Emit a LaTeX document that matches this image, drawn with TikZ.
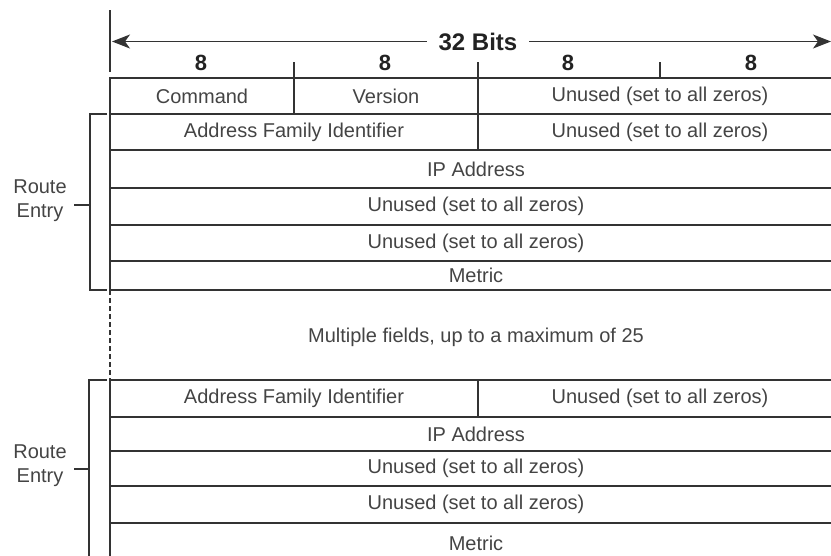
\documentclass[tikz,border=0pt]{standalone}
\usepackage{fontspec}
\setmainfont{Liberation Sans}
\usetikzlibrary{arrows.meta,positioning}
\definecolor{lineclr}{HTML}{333333}
\definecolor{textclr}{HTML}{444444}
\definecolor{headclr}{HTML}{222222}

\begin{document}
\begin{tikzpicture}[x=1pt, y=-1pt, >={Stealth[length=18pt, width=14pt, inset=5pt]},
  line width=1.6pt, lineclr,
  every node/.style={font=\fontsize{20}{24}\selectfont, text=textclr},
  field/.style={draw=lineclr, inner sep=0pt, outer sep=0pt, anchor=north west,
                minimum height=#1},
  quarter/.style={minimum width=184pt},
  half/.style={minimum width=368pt},
  rest/.style={minimum width=364pt},
  wide/.style={minimum width=732pt},
  head/.style={font=\fontsize{22}{26}\selectfont\bfseries, text=headclr},
  lbl/.style={align=center, inner sep=0pt}]
  \useasboundingbox (0,0) rectangle (831,555);
  \clip (0,0) rectangle (831,555);
  % Header: width arrow and byte counts
  \draw (110,10) -- (110,72);
  \node[head, font=\fontsize{24}{28}\selectfont\bfseries, inner xsep=11pt] (bits) at (478,41.5) {32 Bits};
  \coordinate (ltip) at (112,41.5);
  \coordinate (rtip) at (831,41.5);
  \draw[->, line width=1.2pt] (bits.west) -- (ltip);
  \draw[->, line width=1.2pt] (bits.east) -- (rtip);
  \node[head] (b1) at (201,63) {8};
  \node[head] (b2) at (385,63) {8};
  \node[head] (b3) at (568,63) {8};
  \node[head] (b4) at (751,63) {8};
  % First route entry (with header row)
  \node[field=36pt, quarter] (cmd) at (110,78) {Command};
  \node[field=36pt, quarter] (ver) at (cmd.north east) {Version};
  \node[field=36pt, rest] (un1) at (ver.north east) {Unused (set to all zeros)};
  \node[field=36pt, half] (afi1) at (cmd.south west) {Address Family Identifier};
  \node[field=36pt, rest] (un2) at (afi1.north east) {Unused (set to all zeros)};
  \node[field=38pt, wide] (ip1) at (afi1.south west) {IP Address};
  \node[field=37pt, wide] (un3) at (ip1.south west) {Unused (set to all zeros)};
  \node[field=36pt, wide] (un4) at (un3.south west) {Unused (set to all zeros)};
  \node[field=29pt, wide] (met1) at (un4.south west) {Metric};
  % Byte ticks
  \coordinate (t1) at (294,62);
  \coordinate (t2) at (478,62);
  \coordinate (t3) at (660,62);
  \draw (t1) -- (cmd.north east);
  \draw (t2) -- (ver.north east);
  \draw (t3) -- (t3 |- un1.north);
  % Bracket for first entry
  \draw[line width=1.4pt] (107,114) -| (90,290) -- (107,290);
  \node[lbl] (re1) at (40,201) {Route\\Entry};
  \coordinate (k1) at (90,205);
  \draw[line width=1.4pt] (74,205) -- (k1);
  % Repetition note
  \node (mult) at (476,337) {Multiple fields, up to a maximum of 25};
  % Last route entry
  \node[field=37pt, half] (afi2) at (110,380) {Address Family Identifier};
  \node[field=37pt, rest] (un5) at (afi2.north east) {Unused (set to all zeros)};
  \node[field=34pt, wide] (ip2) at (afi2.south west) {IP Address};
  \node[field=35pt, wide] (un6) at (ip2.south west) {Unused (set to all zeros)};
  \node[field=37pt, wide] (un7) at (un6.south west) {Unused (set to all zeros)};
  \node[field=40pt, wide] (met2) at (un7.south west) {Metric};
  \draw[dashed, dash pattern=on 5pt off 3pt] (met1.south west) -- (afi2.north west);
  % Bracket for last entry
  \draw[line width=1.4pt] (107,380) -| (89,580);
  \node[lbl] (re2) at (40,466) {Route\\Entry};
  \coordinate (k2) at (89,469);
  \draw[line width=1.4pt] (74,469) -- (k2);
\end{tikzpicture}
\end{document}
